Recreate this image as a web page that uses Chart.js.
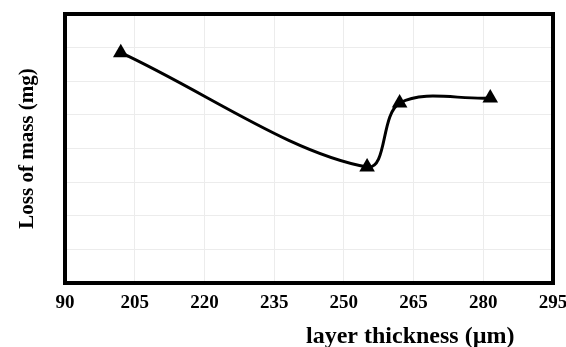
<!DOCTYPE html>
<html>
<head>
<meta charset="utf-8">
<script src="https://cdn.jsdelivr.net/npm/chart.js@4"></script>
<style>
html,body{margin:0;padding:0;background:#fff;}
#wrap{width:566px;height:347px;position:relative;}
</style>
</head>
<body>
<div id="wrap"><canvas id="c" width="566" height="347"></canvas></div>
<script>
// Data
const thickness = [202, 255, 262, 281.5];      // layer thickness (µm)
const massLoss  = [6.85, 3.45, 5.35, 5.5];     // loss of mass (relative units, no y labels shown)
const xTickValues = [190, 205, 220, 235, 250, 265, 280, 295];
const xTickLabels = ["90", "205", "220", "235", "250", "265", "280", "295"];
const xTitle = "layer thickness (µm)";
const yTitle = "Loss of mass (mg)";

const serif = "'Liberation Serif', 'Times New Roman', serif";

const frame = {
  id: 'frame',
  afterDraw(chart) {
    const {ctx, chartArea: a} = chart;
    ctx.save();
    ctx.strokeStyle = '#000';
    ctx.lineWidth = 4;
    ctx.strokeRect(a.left, a.top, a.right - a.left, a.bottom - a.top);
    ctx.fillStyle = '#000';
    ctx.font = "bold 24px " + serif;
    ctx.textAlign = 'center';
    ctx.textBaseline = 'middle';
    ctx.fillText(xTitle, a.left + (a.right - a.left) * 0.7075, a.bottom + 54);
    ctx.restore();
  }
};

new Chart(document.getElementById('c'), {
  type: 'scatter',
  data: {
    datasets: [{
      data: thickness.map((x, i) => ({x: x, y: massLoss[i]})),
      showLine: true,
      borderColor: '#000',
      backgroundColor: '#000',
      borderWidth: 3,
      tension: 0.35,
      pointStyle: 'triangle',
      pointRadius: 9,
      pointHoverRadius: 9,
      pointBorderWidth: 0
    }]
  },
  options: {
    responsive: false,
    animation: false,
    devicePixelRatio: 1,
    layout: {padding: {left: 0, right: 13, top: 14, bottom: 0}},
    plugins: {legend: {display: false}, tooltip: {enabled: false}},
    scales: {
      x: {
        type: 'linear',
        min: 190, max: 295,
        afterBuildTicks(scale) { scale.ticks = xTickValues.map(v => ({value: v})); },
        afterFit(scale) { scale.height = 64; scale.paddingLeft = 0; scale.paddingRight = 0; },
        grid: {color: '#ececec', lineWidth: 1, drawTicks: false},
        border: {display: false},
        ticks: {
          padding: 9,
          color: '#000',
          font: {family: serif, size: 19, weight: 'bold'},
          maxRotation: 0,
          autoSkip: false,
          callback: (v) => { const i = xTickValues.indexOf(v); return i >= 0 ? xTickLabels[i] : ''; }
        }
      },
      y: {
        min: 0, max: 8,
        afterFit(scale) { scale.width = 65; },
        grid: {color: '#ececec', lineWidth: 1, drawTicks: false},
        border: {display: false},
        ticks: {display: false, stepSize: 1},
        title: {
          display: true,
          text: yTitle,
          color: '#000',
          font: {family: serif, size: 21, weight: 'bold'},
          padding: {top: 15, bottom: 0}
        }
      }
    }
  },
  plugins: [frame]
});
</script>
</body>
</html>
